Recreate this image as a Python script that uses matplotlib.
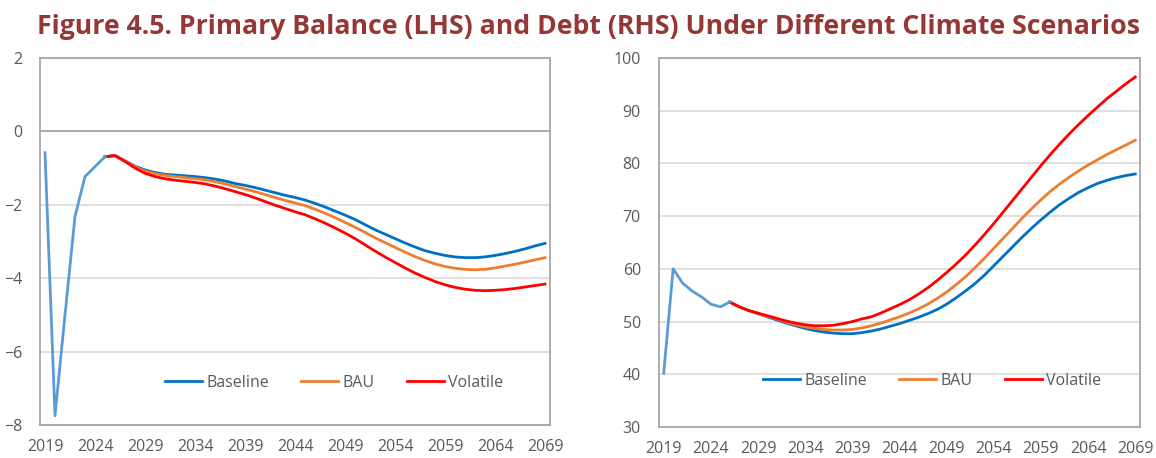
import matplotlib
matplotlib.use("Agg")
import matplotlib.pyplot as plt
import numpy as np

# ---------------- data ----------------
hist_years_pb = list(range(2019, 2026))
hist_pb = [-0.58, -7.75, -5.0, -2.32, -1.23, -0.96, -0.69]

scen_years_pb = list(range(2025, 2070))
baseline_pb = [-0.69, -0.66, -0.80, -0.95, -1.05, -1.12, -1.17, -1.19, -1.21, -1.23,
               -1.26, -1.30, -1.35, -1.42, -1.47, -1.53, -1.60, -1.67, -1.74, -1.80,
               -1.87, -1.96, -2.06, -2.17, -2.28, -2.40, -2.54, -2.68, -2.80, -2.92,
               -3.04, -3.15, -3.25, -3.32, -3.38, -3.42, -3.44, -3.44, -3.42, -3.38,
               -3.33, -3.27, -3.20, -3.12, -3.05]
bau_pb = [-0.69, -0.66, -0.81, -0.97, -1.08, -1.15, -1.20, -1.23, -1.26, -1.29,
          -1.32, -1.37, -1.43, -1.50, -1.57, -1.64, -1.72, -1.80, -1.88, -1.95,
          -2.02, -2.12, -2.23, -2.35, -2.48, -2.61, -2.75, -2.90, -3.03, -3.16,
          -3.29, -3.41, -3.52, -3.61, -3.68, -3.73, -3.76, -3.77, -3.76, -3.72,
          -3.67, -3.62, -3.56, -3.50, -3.44]
volatile_pb = [-0.69, -0.66, -0.82, -1.00, -1.14, -1.23, -1.29, -1.33, -1.36, -1.39,
               -1.43, -1.49, -1.56, -1.64, -1.72, -1.81, -1.91, -2.01, -2.10, -2.19,
               -2.27, -2.38, -2.50, -2.63, -2.77, -2.92, -3.09, -3.26, -3.42, -3.57,
               -3.72, -3.86, -3.98, -4.09, -4.18, -4.25, -4.30, -4.33, -4.34, -4.33,
               -4.31, -4.28, -4.24, -4.20, -4.16]

hist_years_debt = list(range(2019, 2027))
hist_debt = [40.2, 60.0, 57.3, 55.8, 54.7, 53.3, 52.8, 53.7]

scen_years_debt = list(range(2026, 2070))
baseline_debt = [53.7, 52.8, 52.1, 51.5, 50.9, 50.3, 49.7, 49.2, 48.7, 48.3,
                 48.0, 47.8, 47.7, 47.7, 47.9, 48.2, 48.6, 49.1, 49.6, 50.2,
                 50.8, 51.5, 52.3, 53.3, 54.5, 55.8, 57.2, 58.8, 60.6, 62.4,
                 64.2, 66.0, 67.7, 69.3, 70.8, 72.2, 73.4, 74.5, 75.4, 76.2,
                 76.8, 77.3, 77.7, 78.0]
bau_debt = [53.7, 52.8, 52.1, 51.5, 51.0, 50.5, 49.9, 49.4, 49.0, 48.7,
            48.5, 48.4, 48.4, 48.5, 48.8, 49.2, 49.7, 50.3, 50.9, 51.6,
            52.4, 53.3, 54.4, 55.6, 57.0, 58.5, 60.2, 62.0, 63.9, 65.8,
            67.7, 69.6, 71.4, 73.1, 74.7, 76.1, 77.4, 78.6, 79.7, 80.7,
            81.7, 82.6, 83.5, 84.4]
volatile_debt = [53.7, 52.8, 52.1, 51.6, 51.1, 50.6, 50.1, 49.7, 49.4, 49.2,
                 49.2, 49.3, 49.6, 50.0, 50.5, 50.9, 51.6, 52.4, 53.2, 54.1,
                 55.2, 56.4, 57.8, 59.3, 60.9, 62.6, 64.5, 66.5, 68.6, 70.8,
                 73.0, 75.2, 77.4, 79.6, 81.7, 83.7, 85.6, 87.4, 89.1, 90.7,
                 92.3, 93.7, 95.1, 96.4]

x_tick_years = list(range(2019, 2070, 5))
labels = ["Baseline", "BAU", "Volatile"]
title = "Figure 4.5. Primary Balance (LHS) and Debt (RHS) Under Different Climate Scenarios"

# ---------------- style ----------------
C_BASE = "#0070C0"
C_BAU = "#ED7D31"
C_VOL = "#FF0000"
C_HIST = "#5B9BD5"
TXT = "#595959"
FRAME = "#A6A6A6"
GRID = "#D9D9D9"
LW = 2.0
FS = 11.5

plt.rcParams['font.family'] = ['Open Sans', 'DejaVu Sans']

W, H = 1156, 458
fig = plt.figure(figsize=(W/100, H/100), dpi=100)
axL = fig.add_axes([40/W, 1-425/H, 510/W, 367/H])
axR = fig.add_axes([659/W, 1-427/H, 481/W, 369/H])

def style(ax, yticks, ylim):
    ax.set_xlim(2018.5, 2069.5)
    ax.set_ylim(*ylim)
    ax.set_yticks(yticks)
    ax.set_xticks(x_tick_years)
    ax.set_xticklabels([str(y) for y in x_tick_years])
    ax.tick_params(axis='both', length=0, labelsize=FS, colors=TXT)
    ax.tick_params(axis='y', pad=13)
    ax.tick_params(axis='x', pad=10)
    for s in ax.spines.values():
        s.set_color(FRAME)
        s.set_linewidth(1.3)
    ax.set_axisbelow(True)
    ax.yaxis.grid(True, color=GRID, linewidth=1.2)

style(axL, [-8, -6, -4, -2, 0, 2], (-8, 2))
style(axR, list(range(30, 101, 10)), (30, 100))
axL.axhline(0, color=FRAME, linewidth=1.3, zorder=1)

# left chart
axL.plot(scen_years_pb, baseline_pb, color=C_BASE, lw=LW, label=labels[0], zorder=3)
axL.plot(scen_years_pb, bau_pb, color=C_BAU, lw=LW, label=labels[1], zorder=4)
axL.plot(scen_years_pb, volatile_pb, color=C_VOL, lw=LW, label=labels[2], zorder=5)
axL.plot(hist_years_pb, hist_pb, color=C_HIST, lw=LW, zorder=6)

# right chart
axR.plot(scen_years_debt, baseline_debt, color=C_BASE, lw=LW, label=labels[0], zorder=3)
axR.plot(scen_years_debt, bau_debt, color=C_BAU, lw=LW, label=labels[1], zorder=4)
axR.plot(scen_years_debt, volatile_debt, color=C_VOL, lw=LW, label=labels[2], zorder=5)
axR.plot(hist_years_debt, hist_debt, color=C_HIST, lw=LW, zorder=6)

for ax, (lx, ly) in ((axL, (165, 383)), (axR, (763, 381))):
    leg = ax.legend(loc='center left', bbox_to_anchor=(lx/W, 1-ly/H),
                    bbox_transform=fig.transFigure, ncol=3, frameon=False,
                    borderpad=0, borderaxespad=0,
                    handlelength=2.3, handletextpad=0.3, columnspacing=2.0,
                    fontsize=FS)
    for t in leg.get_texts():
        t.set_color(TXT)

fig.text(1140/W, 1-34/H, title, ha='right', va='baseline', fontsize=19.2,
         fontweight='bold', color="#953735")

fig.savefig("out.png", dpi=100)
